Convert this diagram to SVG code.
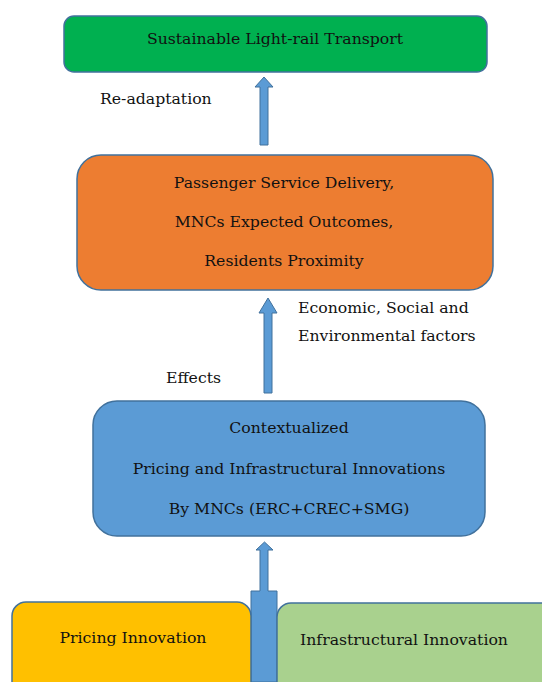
<svg xmlns="http://www.w3.org/2000/svg" width="542" height="682" viewBox="0 0 542 682">
<style>
.box{stroke:#41719C;stroke-width:1.5}
.m{text-anchor:middle}
.arr{fill:#5B9BD5;stroke:#41719C;stroke-width:1}
</style>
<rect width="542" height="682" fill="#fff"/>
<g id="connectors">
<polygon class="arr" points="260,145 260,87 255,87 264,77 273,87 268,87 268,145"/>
<polygon class="arr" points="264,393 264,313 259,313 268,298 277,313 272,313 272,393"/>
<polygon class="arr" points="251,682 251,591 260,591 260,550 256,550 264.5,542 273,550 268,550 268,591 277,591 277,682"/>
</g>
<g font-family="DejaVu Serif, serif" font-size="15.7" fill="#111">
<g id="n_slt">
<rect class="box" x="64" y="16" width="423" height="56" rx="10" fill="#00B050"/>
<text class="m" x="275" y="44">Sustainable Light-rail Transport</text>
</g>
<text x="100" y="104">Re-adaptation</text>
<g id="n_psd">
<rect class="box" x="77" y="155" width="416" height="135" rx="24" fill="#ED7D31"/>
<text class="m" x="284" y="188">Passenger Service Delivery,</text>
<text class="m" x="284" y="227">MNCs Expected Outcomes,</text>
<text class="m" x="284" y="266">Residents Proximity</text>
</g>
<text x="298" y="313">Economic, Social and</text>
<text x="298" y="341">Environmental factors</text>
<text x="166" y="383">Effects</text>
<g id="n_ctx">
<rect class="box" x="93" y="401" width="392" height="135" rx="24" fill="#5B9BD5"/>
<text class="m" x="289" y="433">Contextualized</text>
<text class="m" x="289" y="474">Pricing and Infrastructural Innovations</text>
<text class="m" x="289" y="514">By MNCs (ERC+CREC+SMG)</text>
</g>
<g id="n_pricing">
<rect class="box" x="12" y="602" width="239" height="100" rx="14" fill="#FFC000"/>
<text class="m" x="133" y="643">Pricing Innovation</text>
</g>
<g id="n_infra">
<rect class="box" x="277" y="603" width="280" height="100" rx="14" fill="#A9D18E"/>
<text class="m" x="404" y="645">Infrastructural Innovation</text>
</g>
</g>
</svg>
